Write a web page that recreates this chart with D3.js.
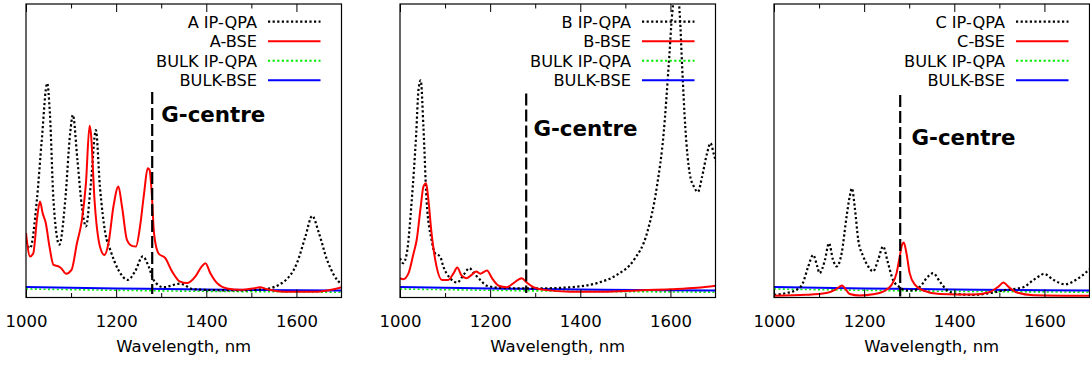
<!DOCTYPE html>
<html>
<head>
<meta charset="utf-8">
<script src="https://cdn.jsdelivr.net/npm/d3@7"></script>
<style>
  html, body { margin: 0; padding: 0; background: #fff; }
  svg { display: block; font-family: "DejaVu Sans", sans-serif; }
</style>
</head>
<body>
<svg id="chart" width="1090" height="365"></svg>
<script>
// ---------- data (wavelength nm, relative intensity 0-100) ----------
const xTicks = [1000, 1200, 1400, 1600];
const xMinorTicks = [1100, 1300, 1500, 1700];
const gCentre = 1280;

const aQPA = [[1000,19],[1009,16.8],[1024,33],[1035,53.7],[1047,73],[1053,62.8],[1061,33],[1074,18],[1087,33],[1098,56],[1104,62.2],[1114,47],[1124,31],[1133,24.2],[1144,39],[1155,57],[1164,37.8],[1176,21.9],[1187,16.2],[1205,9.4],[1226,6],[1242,8.9],[1259,14],[1272,10.6],[1283,6],[1305,3.5],[1342,4.7],[1372,2.8],[1461,2.4],[1527,2.8],[1572,5.4],[1601,11.7],[1620,20.8],[1635,27.8],[1650,21.9],[1668,12.8],[1683,7.7],[1701,4.3]];
const aBSE = [[1000,21.9],[1009,14],[1016,15],[1025,27.6],[1031,32.7],[1037,28.7],[1044,25.3],[1052,17.4],[1061,11.1],[1072,10.6],[1078,10],[1089,8.1],[1101,9.4],[1113,18.5],[1124,26.4],[1133,38.9],[1141,58.5],[1144,56],[1152,33.3],[1164,17.4],[1174,14.5],[1183,18.5],[1194,31],[1205,37.8],[1213,31],[1224,19.6],[1235,17.6],[1244,17.4],[1253,24.2],[1262,35.5],[1270,44],[1274,43.5],[1279,35.5],[1284,21.9],[1294,15],[1309,13.4],[1324,8.9],[1342,5.4],[1357,4.9],[1376,7.2],[1390,10.6],[1398,11.7],[1409,8.3],[1424,4.9],[1446,3.1],[1476,2.6],[1505,3.1],[1519,3.5],[1535,2.8],[1572,2],[1646,2],[1683,2.8],[1701,3.5]];

const bQPA = [[1000,13.4],[1007,11.7],[1015,15],[1026,33],[1036,56],[1041,70.7],[1046,74],[1052,58],[1059,33],[1070,19.6],[1078,15],[1089,14],[1096,10.6],[1111,6.6],[1127,5.1],[1141,7.7],[1154,10],[1164,8.3],[1178,6],[1193,4],[1230,3.2],[1304,3.1],[1378,3.5],[1437,4.9],[1481,7.7],[1519,12.8],[1548,21.9],[1570,37.8],[1585,56],[1596,78.7],[1604,96.8],[1611,104],[1616,104],[1621,95.7],[1626,78.7],[1633,58],[1643,42],[1652,37.8],[1661,36],[1670,41],[1681,49],[1689,52.6],[1696,49],[1704,44.6]];
const bBSE = [[1000,6.6],[1007,6.2],[1019,8.3],[1030,15],[1037,19.6],[1046,31],[1052,37.8],[1058,38.9],[1063,33.3],[1070,21.9],[1081,10.6],[1093,6],[1107,6],[1119,8.3],[1127,10.2],[1137,7.4],[1148,6.6],[1159,7.7],[1169,8.9],[1178,8.1],[1193,9.2],[1204,6.6],[1219,4],[1237,3.5],[1252,4.9],[1270,6.6],[1281,5.1],[1296,3.5],[1319,2.6],[1378,2],[1452,2],[1526,2.4],[1600,2.8],[1659,3.3],[1704,4.1]];

const cQPA = [[1000,0.9],[1027,1.5],[1050,2.6],[1064,4.9],[1076,10.6],[1087,14.5],[1096,10.6],[1101,8.3],[1113,12.8],[1122,18.5],[1131,12.8],[1139,10.6],[1150,15],[1161,27.6],[1168,34.4],[1173,37.2],[1179,31],[1187,19.6],[1198,14],[1209,10.6],[1220,8.9],[1231,12.8],[1242,17.4],[1253,11.7],[1264,6],[1279,3.5],[1294,2.4],[1309,2.4],[1324,3.7],[1342,7.2],[1353,8.3],[1368,5.4],[1383,2.6],[1405,1.2],[1442,0.9],[1479,1.5],[1516,2.6],[1553,3.5],[1576,6],[1590,7.4],[1599,8.1],[1620,6],[1646,4.5],[1672,6.2],[1700,9.6]];
const cBSE = [[1000,0.6],[1072,0.9],[1116,1.5],[1135,2.6],[1146,3.7],[1151,4.1],[1157,3.2],[1168,1.2],[1190,0.7],[1220,1.1],[1242,2],[1261,4.3],[1272,8.3],[1279,14],[1284,17.9],[1288,18.7],[1294,15],[1301,8.3],[1313,4.3],[1331,2.4],[1368,1.2],[1442,1],[1479,1.9],[1498,3.7],[1509,5.1],[1520,3.7],[1539,1.7],[1576,0.8],[1700,0.6]];

const bulkQPA = [[1000,2.9],[1200,2.45],[1400,2.1],[1600,1.9],[1700,1.8]];
const bulkBSE = [[1000,3.6],[1200,3.1],[1400,2.7],[1600,2.45],[1700,2.35]];

const panelNames = ["A", "B", "C"];
const panelQPA = [aQPA, bQPA, cQPA];
const panelBSE = [aBSE, bBSE, cBSE];
const gLineTop = [70, 69.5, 69];
const gLineBottom = [1.2, 1.5, 0.3];
const gLabelPos = [[1300, 59.8], [1296, 54.9], [1305, 52]];
const xLabel = "Wavelength, nm";

// ---------- drawing ----------
const svg = d3.select("#chart");
svg.append("rect").attr("width", 1090).attr("height", 365).attr("fill", "#fff");

const panelLeft = [26, 400, 774];
const panelW = 315.5;
const plotTop = 4, plotBottom = 297.5;

panelNames.forEach((name, i) => {
  const x = d3.scaleLinear().domain([1000, 1700]).range([panelLeft[i], panelLeft[i] + panelW]);
  const y = d3.scaleLinear().domain([0, 100]).range([plotBottom, plotTop]);
  const g = svg.append("g");

  const clipId = "clip" + i;
  svg.append("clipPath").attr("id", clipId)
    .append("rect").attr("x", x(1000)).attr("y", plotTop).attr("width", panelW).attr("height", plotBottom - plotTop);

  const line = d3.line().x(d => x(d[0])).y(d => y(d[1])).curve(d3.curveMonotoneX);
  const plot = g.append("g").attr("clip-path", `url(#${clipId})`);

  // bulk curves
  plot.append("path").datum(bulkQPA).attr("d", line).attr("fill", "none")
    .attr("stroke", "#00ee00").attr("stroke-width", 1.6).attr("stroke-dasharray", "2,2.4");
  plot.append("path").datum(bulkBSE).attr("d", line).attr("fill", "none")
    .attr("stroke", "#0000ff").attr("stroke-width", 2);
  // panel curves
  plot.append("path").datum(panelQPA[i]).attr("d", line).attr("fill", "none")
    .attr("stroke", "#000").attr("stroke-width", 2.2).attr("stroke-dasharray", "2.2,2.4");
  plot.append("path").datum(panelBSE[i]).attr("d", line).attr("fill", "none")
    .attr("stroke", "#ff0000").attr("stroke-width", 2);

  // G-centre dashed line
  g.append("line")
    .attr("x1", x(gCentre)).attr("x2", x(gCentre))
    .attr("y1", y(gLineTop[i])).attr("y2", y(gLineBottom[i]))
    .attr("stroke", "#000").attr("stroke-width", 2.2).attr("stroke-dasharray", "12,4");
  g.append("text")
    .attr("x", x(gLabelPos[i][0])).attr("y", y(gLabelPos[i][1]))
    .attr("font-size", 21.4).attr("font-weight", "bold").attr("fill", "#000")
    .text("G-centre");

  // frame
  g.append("rect").attr("x", x(1000)).attr("y", plotTop).attr("width", panelW).attr("height", plotBottom - plotTop)
    .attr("fill", "none").attr("stroke", "#000").attr("stroke-width", 1.2);

  // ticks (inward, top and bottom)
  const axB = d3.axisBottom(x).tickValues(xTicks).tickSizeInner(-8).tickSizeOuter(0).tickFormat(d3.format("d")).tickPadding(18);
  const axBg = g.append("g").attr("transform", `translate(0,${plotBottom})`).call(axB);
  axBg.select(".domain").remove();
  axBg.selectAll("text").attr("font-size", 16.5).attr("font-family", "DejaVu Sans").attr("fill", "#000");
  axBg.selectAll("line").attr("stroke", "#000");
  const axBm = d3.axisBottom(x).tickValues(xMinorTicks.filter(v => v < 1700)).tickSizeInner(-4.5).tickSizeOuter(0).tickFormat("");
  const axBmg = g.append("g").attr("transform", `translate(0,${plotBottom})`).call(axBm);
  axBmg.select(".domain").remove();
  axBmg.selectAll("line").attr("stroke", "#000");

  const axT = d3.axisTop(x).tickValues(xTicks).tickSizeInner(-8).tickSizeOuter(0).tickFormat("");
  const axTg = g.append("g").attr("transform", `translate(0,${plotTop})`).call(axT);
  axTg.select(".domain").remove();
  axTg.selectAll("line").attr("stroke", "#000");
  const axTm = d3.axisTop(x).tickValues(xMinorTicks.filter(v => v < 1700)).tickSizeInner(-4.5).tickSizeOuter(0).tickFormat("");
  const axTmg = g.append("g").attr("transform", `translate(0,${plotTop})`).call(axTm);
  axTmg.select(".domain").remove();
  axTmg.selectAll("line").attr("stroke", "#000");

  // x label
  g.append("text").attr("x", (x(1000) + x(1700)) / 2).attr("y", 351.5)
    .attr("text-anchor", "middle").attr("font-size", 16.5).attr("fill", "#000").text(xLabel);

  // legend
  const right = x(1700);
  const legend = [
    { label: name + " IP-QPA", color: "#000", dash: "2.2,2.4", w: 2.2 },
    { label: name + "-BSE", color: "#ff0000", dash: null, w: 2 },
    { label: "BULK IP-QPA", color: "#00ee00", dash: "2.2,2.4", w: 2 },
    { label: "BULK-BSE", color: "#0000ff", dash: null, w: 2 }
  ];
  const rowY = [21.7, 41.2, 60.7, 80.2];
  legend.forEach((l, k) => {
    g.append("text").attr("x", right - 84.5).attr("y", rowY[k] + 5.8)
      .attr("text-anchor", "end").attr("font-size", 16.2).attr("fill", "#000").text(l.label);
    const ln = g.append("line").attr("x1", right - 73.5).attr("x2", right - 21)
      .attr("y1", rowY[k]).attr("y2", rowY[k])
      .attr("stroke", l.color).attr("stroke-width", l.w);
    if (l.dash) ln.attr("stroke-dasharray", l.dash);
  });
});
</script>
</body>
</html>
